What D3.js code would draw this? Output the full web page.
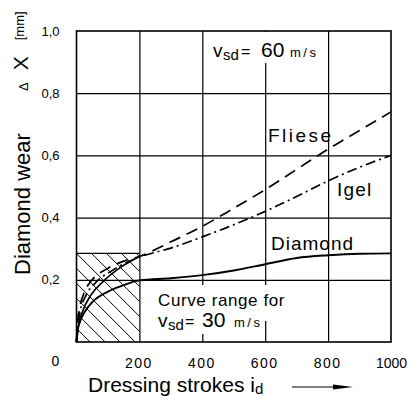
<!DOCTYPE html>
<html><head><meta charset="utf-8">
<script src="https://cdn.jsdelivr.net/npm/d3@7"></script>
<style>
body{margin:0;background:#fff;}
svg{display:block;font-family:"Liberation Sans",Arial,sans-serif;}
</style></head>
<body><svg id="c" width="408" height="396"></svg>
<script>
// ---- data ----
const xTicks = [200, 400, 600, 800, 1000];
const yTicks = [0.2, 0.4, 0.6, 0.8, 1.0];
const yGrid = [0.2, 0.4, 0.6, 0.8];
const xGrid = [200, 400, 600, 800];
const diamond = [[0,0],[3,0.035],[10,0.062],[25,0.095],[50,0.128],[100,0.162],[150,0.183],[200,0.198],[300,0.205],[400,0.215],[500,0.23],[600,0.25],[700,0.27],[800,0.279],[900,0.284],[1000,0.285]];
const fliese = [[0,0],[3,0.06],[10,0.11],[25,0.16],[50,0.2],[100,0.237],[150,0.26],[200,0.275],[300,0.322],[400,0.372],[500,0.43],[600,0.49],[700,0.555],[800,0.62],[900,0.68],[1000,0.74]];
const igel = [[0,0],[4,0.05],[12,0.1],[30,0.15],[60,0.19],[110,0.228],[160,0.256],[200,0.273],[300,0.302],[400,0.338],[500,0.377],[600,0.42],[700,0.468],[800,0.518],[900,0.562],[1000,0.6]];
const diamond30b = [[0,0],[6,0.05],[20,0.1],[45,0.15],[85,0.195],[140,0.24],[200,0.275]];
const hatchRange = [0, 200, 0, 0.285];

const svg = d3.select("#c");
const x = d3.scaleLinear([0, 1000], [76.5, 391]);
const y = d3.scaleLinear([0, 1], [342, 31]);

// hatched region
svg.append("clipPath").attr("id","hc").append("rect")
  .attr("x", x(hatchRange[0])).attr("y", y(hatchRange[3]))
  .attr("width", x(hatchRange[1]) - x(hatchRange[0])).attr("height", y(hatchRange[2]) - y(hatchRange[3]));
const hg = svg.append("g").attr("clip-path","url(#hc)");
const hx0 = x(hatchRange[0]), hy0 = y(hatchRange[3]);
for (let k = -10; k < 20; k++) {
  const sx = hx0 + k*15;
  hg.append("line").attr("x1", sx).attr("y1", hy0).attr("x2", sx+120).attr("y2", hy0+120)
    .attr("stroke","#000").attr("stroke-width",1);
}
svg.append("line").attr("x1", x(0)).attr("x2", x(200)).attr("y1", y(hatchRange[3])).attr("y2", y(hatchRange[3]))
  .attr("stroke","#000").attr("stroke-width",1.2);

// grid via axes
const gx = svg.append("g").attr("transform",`translate(0,${y(0)})`)
  .call(d3.axisBottom(x).tickValues(xGrid).tickSize(-(y(0)-y(1))).tickFormat(""));
gx.select(".domain").remove();
gx.selectAll("line").attr("stroke","#000").attr("stroke-width",1.2);
const gy = svg.append("g").attr("transform",`translate(${x(0)},0)`)
  .call(d3.axisLeft(y).tickValues(yGrid).tickSize(-(x(1000)-x(0))).tickFormat(""));
gy.select(".domain").remove();
gy.selectAll("line").attr("stroke","#000").attr("stroke-width",1.2);

// white masks behind annotations
svg.append("rect").attr("x",208).attr("y",32).attr("width",116).attr("height",31).attr("fill","#fff");
svg.append("rect").attr("x",150).attr("y",285).attr("width",118).attr("height",36).attr("fill","#fff");
svg.append("rect").attr("x",150).attr("y",320).attr("width",90).attr("height",14).attr("fill","#fff");

// frame
svg.append("rect").attr("x",x(0)).attr("y",y(1)).attr("width",x(1000)-x(0)).attr("height",y(0)-y(1))
  .attr("fill","none").attr("stroke","#000").attr("stroke-width",1.6);

// curves
const line = d3.line().x(d=>x(d[0])).y(d=>y(d[1])).curve(d3.curveMonotoneX);
svg.append("path").datum(diamond).attr("d",line).attr("fill","none").attr("stroke","#000").attr("stroke-width",1.9);
svg.append("path").datum(diamond30b).attr("d",line).attr("fill","none").attr("stroke","#000").attr("stroke-width",1.7);
svg.append("path").datum(fliese).attr("d",line).attr("fill","none").attr("stroke","#000").attr("stroke-width",1.7).attr("stroke-dasharray","12,7");
svg.append("path").datum(igel).attr("d",line).attr("fill","none").attr("stroke","#000").attr("stroke-width",1.7).attr("stroke-dasharray","10,4,2,4");

// tick labels
const ax = svg.append("g").attr("transform",`translate(0,${y(0)})`)
  .call(d3.axisBottom(x).tickValues(xTicks).tickSize(0).tickPadding(16).tickFormat(d3.format("d")));
ax.select(".domain").remove();
ax.selectAll("text").attr("font-size",14).attr("font-family","Liberation Sans, Arial, sans-serif").attr("fill","#000")
  .attr("letter-spacing", d => d === 1000 ? 0 : 1.5).attr("dx", d => d === 1000 ? 0 : -1);
const ay = svg.append("g").attr("transform",`translate(${x(0)},0)`)
  .call(d3.axisLeft(y).tickValues(yTicks).tickSize(0).tickPadding(17).tickFormat(d => d3.format(".1f")(d).replace(".", ",")));
ay.select(".domain").remove();
ay.selectAll("text").attr("font-size",13).attr("font-family","Liberation Sans, Arial, sans-serif").attr("fill","#000");
svg.append("text").attr("x", x(0)-21).attr("y", 366).attr("text-anchor","middle").attr("font-size",14).text("0");

// axis titles
const xt = svg.append("text").attr("x",88).attr("y",392).attr("font-size",21);
xt.append("tspan").text("Dressing strokes i");
xt.append("tspan").attr("font-size",15).attr("dy",2).text("d");
const ar = svg.append("g");
ar.append("line").attr("x1",292).attr("x2",336).attr("y1",387).attr("y2",387).attr("stroke","#000").attr("stroke-width",1.2);
ar.append("path").attr("d","M333,384.5 L353,387 L333,389.5 Z").attr("fill","#000");

svg.append("text").attr("transform","translate(30,275) rotate(-90)").attr("font-size",22).text("Diamond wear");
const yt2 = svg.append("text").attr("transform","translate(28,91) rotate(-90)");
yt2.append("tspan").attr("font-size",13).text("Δ");
yt2.append("tspan").attr("font-size",21).attr("dx",12).text("X");
yt2.append("tspan").attr("font-size",13).attr("dx",16).attr("dy",-4).text("[mm]");

// annotations
const t60 = svg.append("text").attr("y",57);
t60.append("tspan").attr("x",213).attr("font-size",19).text("v");
t60.append("tspan").attr("x",223).attr("font-size",15).attr("dy",3).text("sd");
t60.append("tspan").attr("x",241).attr("font-size",16).attr("dy",-3).text("=");
t60.append("tspan").attr("x",261).attr("font-size",21).text("60");
t60.append("tspan").attr("x",290).attr("font-size",13).attr("letter-spacing",2.5).text("m/s");

svg.append("text").attr("x",158).attr("y",306).attr("font-size",17).attr("letter-spacing",0.6).text("Curve range for");
const t30 = svg.append("text").attr("y",327);
t30.append("tspan").attr("x",158).attr("font-size",19).text("v");
t30.append("tspan").attr("x",168).attr("font-size",15).attr("dy",3).text("sd");
t30.append("tspan").attr("x",185).attr("font-size",16).attr("dy",-3).text("=");
t30.append("tspan").attr("x",202).attr("font-size",21).text("30");
t30.append("tspan").attr("x",234).attr("font-size",13).attr("letter-spacing",2.5).text("m/s");

svg.append("text").attr("x",268).attr("y",142).attr("font-size",19).attr("letter-spacing",2.5).text("Fliese");
svg.append("text").attr("x",337).attr("y",196).attr("font-size",19).attr("letter-spacing",1.2).text("Igel");
svg.append("text").attr("x",271).attr("y",250).attr("font-size",19).attr("letter-spacing",1).text("Diamond");
</script></body></html>
